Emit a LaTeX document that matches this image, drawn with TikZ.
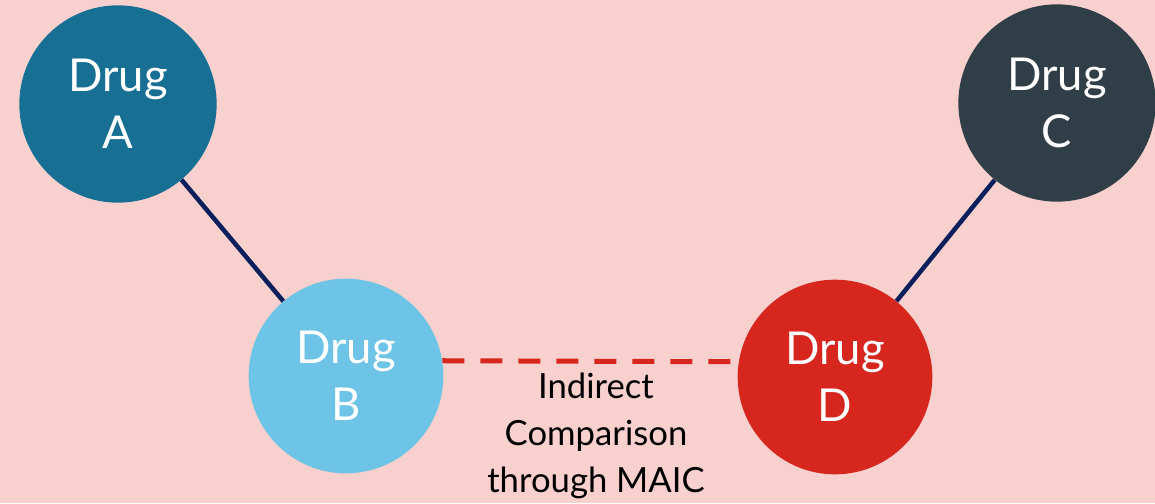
\documentclass[tikz,border=0pt]{standalone}
\usepackage{fontspec}
\setmainfont{Lato}
\definecolor{bgpink}{HTML}{F8D0CE}
\definecolor{drugA}{HTML}{186F94}
\definecolor{drugB}{HTML}{6EC4E6}
\definecolor{drugC}{HTML}{303E48}
\definecolor{drugD}{HTML}{D7261E}
\definecolor{navy}{HTML}{0B1F5C}
\tikzset{
  drug/.style={circle, inner sep=0pt, minimum size=148pt, text=white, align=center,
    font=\fontsize{34}{43}\selectfont},
  link/.style={draw=navy, line width=3.4pt},
  indirect/.style={draw=drugD, line width=3.75pt, dash pattern=on 16.5pt off 12pt},
  lbl/.style={align=center, font=\fontsize{26}{35}\selectfont, text=black}
}
\begin{document}
\begin{tikzpicture}[x=0.75pt, y=-0.75pt]
\fill[bgpink] (0,0) rectangle (1155,503);
\useasboundingbox (0,0) rectangle (1155,503);
\node[drug, fill=drugA] (A) at (118,104) {Drug\\A};
\node[drug, fill=drugC] (C) at (1057,103) {Drug\\C};
\node[drug, fill=drugB, minimum size=146pt] (B) at (346,376) {Drug\\B};
\node[drug, fill=drugD, minimum size=146pt] (D) at (835,377) {Drug\\D};
\draw[link] (A) -- (B);
\draw[link] (C) -- (D);
\draw[indirect] (B.9) -- (D.171);
\node[lbl] (L) at (596,436) {Indirect\\Comparison\\through MAIC};
\end{tikzpicture}
\end{document}
